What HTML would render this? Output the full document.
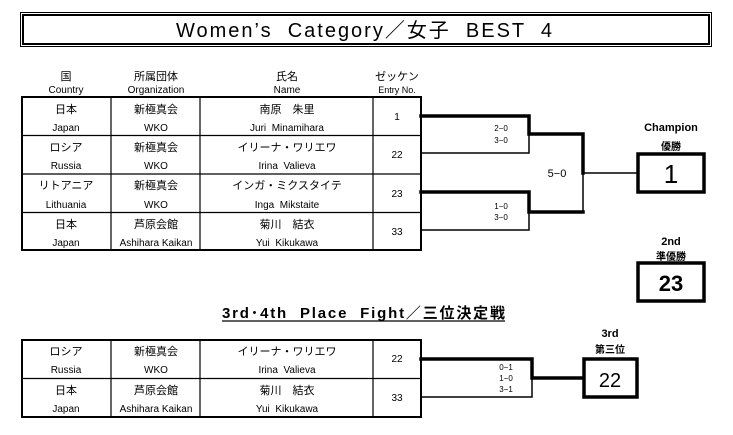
<!DOCTYPE html>
<html><head><meta charset="utf-8"><style>
html,body{margin:0;padding:0;background:#fff;}
svg{display:block;font-family:"Liberation Sans","Noto Sans CJK JP",sans-serif;}
text{white-space:pre;}
</style></head><body>
<svg width="733" height="435" viewBox="0 0 733 435" xmlns="http://www.w3.org/2000/svg" xml:space="preserve">
<!-- title -->
<rect x="20.5" y="12.5" width="691" height="34" fill="none" stroke="#000" stroke-width="1"/>
<rect x="23" y="15" width="686" height="29" fill="none" stroke="#000" stroke-width="2"/>
<text x="176" y="37" font-size="20" textLength="376" lengthAdjust="spacing">Women’s  Category／女子  BEST  4</text>

<!-- headers -->
<g font-size="11" text-anchor="middle">
<text x="66" y="80">国</text><text x="66" y="93" font-size="10">Country</text>
<text x="156" y="80">所属団体</text><text x="156" y="93" font-size="10">Organization</text>
<text x="287" y="80">氏名</text><text x="287" y="93" font-size="10">Name</text>
<text x="397" y="80">ゼッケン</text><text x="397" y="93" font-size="9">Entry No.</text>
</g>

<!-- top table -->
<g stroke="#000" fill="none">
<rect x="22" y="97" width="399" height="153" stroke-width="2"/>
<line x1="111" y1="97" x2="111" y2="250" stroke-width="1.2"/>
<line x1="200" y1="97" x2="200" y2="250" stroke-width="1.2"/>
<line x1="373" y1="97" x2="373" y2="250" stroke-width="1.2"/>
<line x1="22" y1="135.5" x2="421" y2="135.5" stroke-width="1.2"/>
<line x1="22" y1="174" x2="421" y2="174" stroke-width="1.2"/>
<line x1="22" y1="212.5" x2="421" y2="212.5" stroke-width="1.2"/>
</g>
<g font-size="11" text-anchor="middle">
<text x="66" y="113">日本</text><text x="66" y="131" font-size="10">Japan</text>
<text x="156" y="113">新極真会</text><text x="156" y="131" font-size="10">WKO</text>
<text x="287" y="113">南原　朱里</text><text x="287" y="131" font-size="10">Juri  Minamihara</text>
<text x="397" y="120" font-size="10">1</text>
<text x="66" y="151">ロシア</text><text x="66" y="169" font-size="10">Russia</text>
<text x="156" y="151">新極真会</text><text x="156" y="169" font-size="10">WKO</text>
<text x="287" y="151">イリーナ・ワリエワ</text><text x="287" y="169" font-size="10">Irina  Valieva</text>
<text x="397" y="158" font-size="10">22</text>
<text x="66" y="189">リトアニア</text><text x="66" y="208" font-size="10">Lithuania</text>
<text x="156" y="189">新極真会</text><text x="156" y="208" font-size="10">WKO</text>
<text x="287" y="189">インガ・ミクスタイテ</text><text x="287" y="208" font-size="10">Inga  Mikstaite</text>
<text x="397" y="197" font-size="10">23</text>
<text x="66" y="228">日本</text><text x="66" y="246" font-size="10">Japan</text>
<text x="156" y="228">芦原会館</text><text x="156" y="246" font-size="10">Ashihara Kaikan</text>
<text x="287" y="228">菊川　結衣</text><text x="287" y="246" font-size="10">Yui  Kikukawa</text>
<text x="397" y="235" font-size="10">33</text>
</g>

<!-- bracket -->
<g stroke="#000" fill="none" stroke-linecap="square">
<polyline points="421,116 529,116 529,134 583,134 583,173" stroke-width="3.5"/>
<polyline points="421,153 529,153 529,134" stroke-width="1.5"/>
<polyline points="421,192 529,192 529,212 583,212" stroke-width="3.5"/>
<polyline points="421,230 529,230 529,212" stroke-width="1.5"/>
<line x1="583" y1="173" x2="583" y2="212" stroke-width="1.5"/>
<line x1="583" y1="173" x2="637" y2="173" stroke-width="1.5"/>
<rect x="638" y="154" width="66" height="38" stroke-width="3.5"/>
<rect x="638" y="263" width="66" height="38" stroke-width="3.5"/>
</g>
<g font-size="8" text-anchor="middle">
<text x="501" y="131">2−0</text><text x="501" y="143">3−0</text>
<text x="501" y="209">1−0</text><text x="501" y="220">3−0</text>
</g>
<text x="557" y="177" font-size="11" text-anchor="middle">5−0</text>
<g text-anchor="middle" font-weight="bold">
<text x="671" y="131" font-size="11">Champion</text>
<text x="671" y="150" font-size="10">優勝</text>
<text x="671" y="183" font-size="26" font-weight="normal">1</text>
<text x="671" y="245" font-size="11">2nd</text>
<text x="671" y="260" font-size="10">準優勝</text>
<text x="671" y="291" font-size="22">23</text>
</g>

<!-- 3rd place -->
<text x="222" y="318" font-size="15" font-weight="bold" textLength="283" lengthAdjust="spacing">3rd･4th  Place  Fight／三位決定戦</text>
<line x1="222" y1="321" x2="505" y2="321" stroke="#000" stroke-width="1.2"/>
<g stroke="#000" fill="none">
<rect x="22" y="340" width="399" height="77" stroke-width="2"/>
<line x1="111" y1="340" x2="111" y2="417" stroke-width="1.2"/>
<line x1="200" y1="340" x2="200" y2="417" stroke-width="1.2"/>
<line x1="373" y1="340" x2="373" y2="417" stroke-width="1.2"/>
<line x1="22" y1="378.5" x2="421" y2="378.5" stroke-width="1.2"/>
</g>
<g font-size="11" text-anchor="middle">
<text x="66" y="355">ロシア</text><text x="66" y="373" font-size="10">Russia</text>
<text x="156" y="355">新極真会</text><text x="156" y="373" font-size="10">WKO</text>
<text x="287" y="355">イリーナ・ワリエワ</text><text x="287" y="373" font-size="10">Irina  Valieva</text>
<text x="397" y="362" font-size="10">22</text>
<text x="66" y="394">日本</text><text x="66" y="412" font-size="10">Japan</text>
<text x="156" y="394">芦原会館</text><text x="156" y="412" font-size="10">Ashihara Kaikan</text>
<text x="287" y="394">菊川　結衣</text><text x="287" y="412" font-size="10">Yui  Kikukawa</text>
<text x="397" y="401" font-size="10">33</text>
</g>
<g stroke="#000" fill="none" stroke-linecap="square">
<polyline points="421,359 532,359 532,378 583,378" stroke-width="3.5"/>
<polyline points="421,397 532,397 532,378" stroke-width="1.5"/>
<rect x="584" y="359" width="53" height="38" stroke-width="3.5"/>
</g>
<g font-size="8" text-anchor="middle">
<text x="506" y="370">0−1</text><text x="506" y="381">1−0</text><text x="506" y="392">3−1</text>
</g>
<g text-anchor="middle" font-weight="bold">
<text x="610" y="337" font-size="11">3rd</text>
<text x="610" y="353" font-size="10">第三位</text>
<text x="610" y="387" font-size="20" font-weight="normal">22</text>
</g>
</svg>
</body></html>
